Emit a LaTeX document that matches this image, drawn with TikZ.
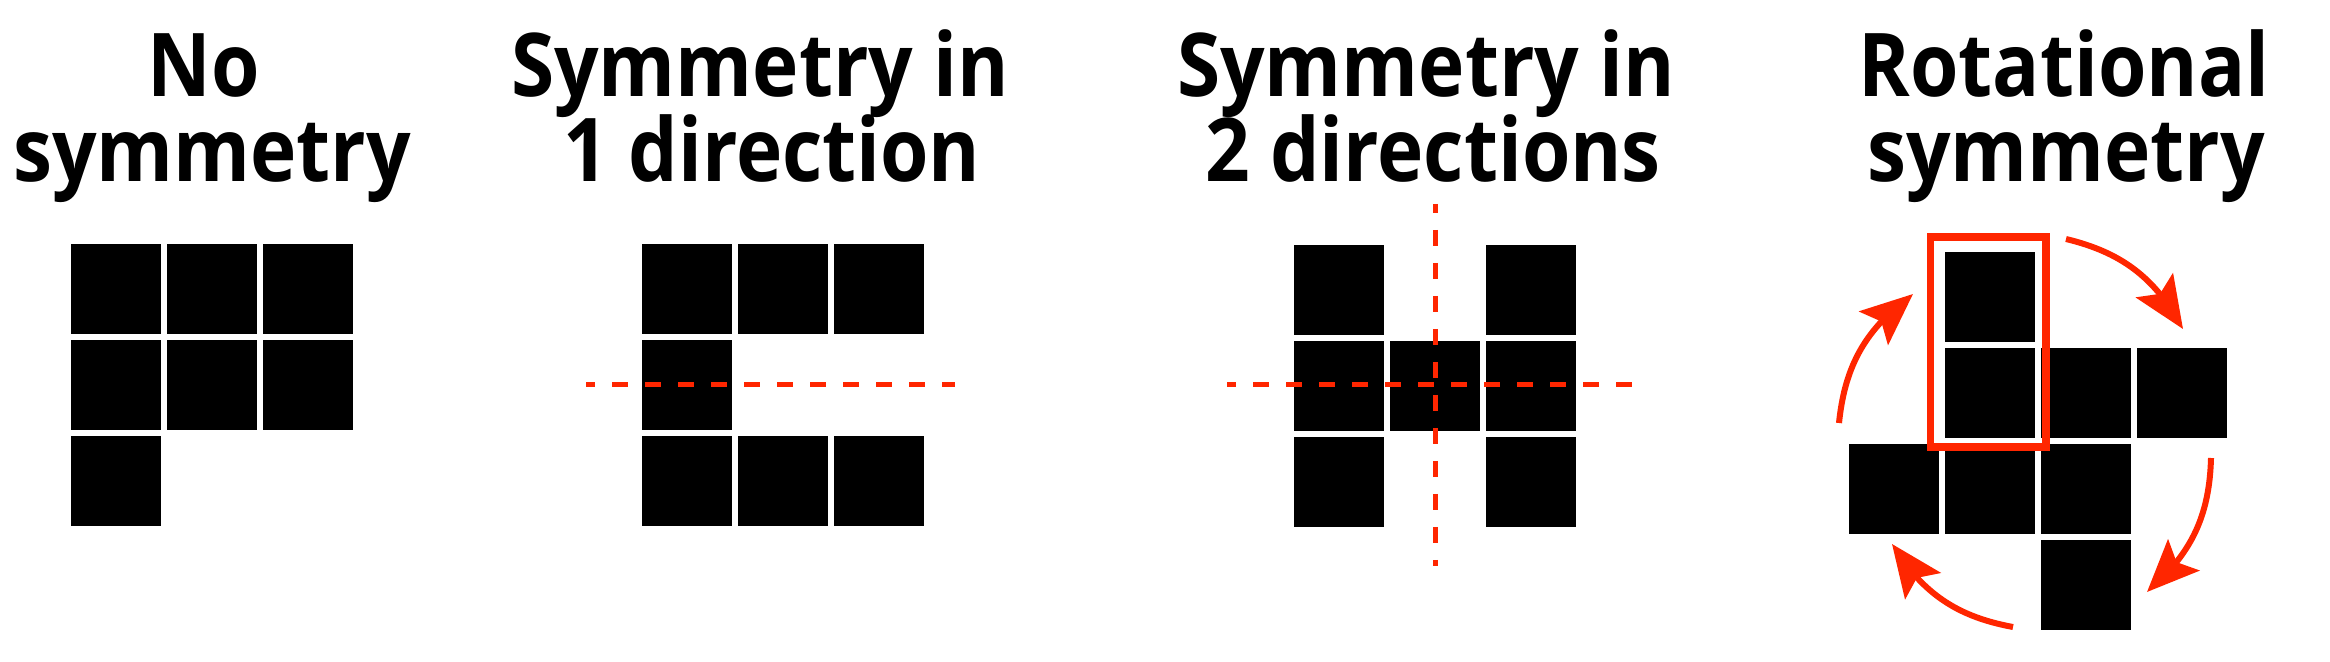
\documentclass[tikz,border=0pt]{standalone}
\usepackage{fontspec}
\newfontfamily\ttlfont{Open Sans}[FakeStretch=0.89]
\usetikzlibrary{arrows.meta,bending}
\definecolor{symred}{RGB}{255,38,0}
\begin{document}
\begin{tikzpicture}[x=0.5pt,y=-0.5pt,
  sq/.style={fill=black},
  ttl/.style={anchor=base, inner sep=0pt, font=\ttlfont\bfseries\fontsize{44}{50}\selectfont},
  axis/.style={draw=symred, line width=2.5pt, dash pattern=on 8pt off 8.5pt, dash phase=3.5pt},
  rot/.style={draw=symred, line width=3pt, -{Stealth[length=26pt,width=22pt,inset=5pt,flex]}},
  frame/.style={draw=symred, line width=3.8pt}]
\fill[white] (0,0) rectangle (2330,662);
\useasboundingbox (0,0) rectangle (2330,662);
% titles
\node[ttl] (t1a) at (204,97) {No};
\node[ttl] (t1b) at (212,182) {symmetry};
\node[ttl] (t2a) at (760,97) {Symmetry in};
\node[ttl] (t2b) at (772,182) {1 direction};
\node[ttl] (t3a) at (1426,97) {Symmetry in};
\node[ttl] (t3b) at (1433,182) {2 directions};
\node[ttl] (t4a) at (2064,97) {Rotational};
\node[ttl] (t4b) at (2066,182) {symmetry};
% panel 1
\foreach \x/\y in {71/244,167/244,263/244,71/340,167/340,263/340,71/436}
  \fill[sq] (\x,\y) rectangle ++(90,90);
% panel 2
\foreach \x/\y in {642/244,738/244,834/244,642/340,642/436,738/436,834/436}
  \fill[sq] (\x,\y) rectangle ++(90,90);
\coordinate (h2a) at (586,385);
\coordinate (h2b) at (955,385);
\draw[axis] (h2a) -- (h2b);
% panel 3
\foreach \x/\y in {1294/245,1486/245,1294/341,1390/341,1486/341,1294/437,1486/437}
  \fill[sq] (\x,\y) rectangle ++(90,90);
\coordinate (h3a) at (1227,385);
\coordinate (h3b) at (1643,385);
\coordinate (v3a) at (1435,204);
\coordinate (v3b) at (1435,566);
\draw[axis] (h3a) -- (h3b);
\draw[axis] (v3a) -- (v3b);
% panel 4
\foreach \x/\y in {1945/252,1945/348,2041/348,2137/348,1849/444,1945/444,2041/444,2041/540}
  \fill[sq] (\x,\y) rectangle ++(90,90);
\draw[frame] (1930.5,237) rectangle (2046,447);
\coordinate (r1a) at (2066,239);
\coordinate (r1b) at (2183,329);
\coordinate (r2a) at (2211,458);
\coordinate (r2b) at (2147,592);
\coordinate (r3a) at (2013,627);
\coordinate (r3b) at (1892,544);
\coordinate (r4a) at (1839,423);
\coordinate (r4b) at (1913,294);
\draw[rot] (r1a) to[bend left=24] (r1b);
\draw[rot] (r2a) to[bend left=24] (r2b);
\draw[rot] (r3a) to[bend left=24] (r3b);
\draw[rot] (r4a) to[bend left=24] (r4b);
\end{tikzpicture}
\end{document}
